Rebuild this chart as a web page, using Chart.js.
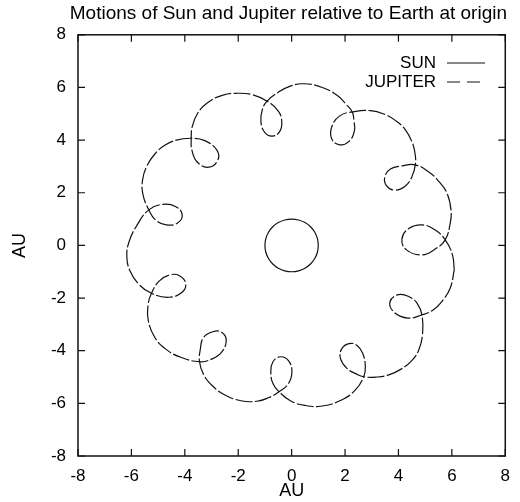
<!DOCTYPE html>
<html>
<head>
<meta charset="utf-8">
<script src="https://cdn.jsdelivr.net/npm/chart.js@4.4.1/dist/chart.umd.min.js"></script>
<style>
  html, body { margin: 0; padding: 0; background: #fff; }
  canvas { display: block; }
</style>
</head>
<body>
<canvas id="orbits" width="520" height="502"></canvas>
<script>
// Axis ticks (AU)
const tickValues = [-8, -6, -4, -2, 0, 2, 4, 6, 8];

// Sun seen from Earth: circle of 1 AU
const sunX = [1, 0.966, 0.866, 0.707, 0.5, 0.259, 0, -0.259, -0.5, -0.707, -0.866, -0.966,
              -1, -0.966, -0.866, -0.707, -0.5, -0.259, 0, 0.259, 0.5, 0.707, 0.866, 0.966, 1];
const sunY = [0, 0.259, 0.5, 0.707, 0.866, 0.966, 1, 0.966, 0.866, 0.707, 0.5, 0.259,
              0, -0.259, -0.5, -0.707, -0.866, -0.966, -1, -0.966, -0.866, -0.707, -0.5, -0.259, 0];

// Jupiter seen from Earth, loop by loop (counter-clockwise)
const jupiterX = [
  6.09, 6.02, 5.75, 5.35, 4.88, 4.4, 4.13, 4.3, 4.88, 5.4, 5.75, 5.93, 5.97, 5.82, 5.52, 5.15,
  4.63, 4.13, 3.7, 3.49, 3.55, 3.85, 4.25, 4.5, 4.63, 4.62, 4.5, 4.26, 3.92, 3.5, 2.95,
  2.27, 1.8, 1.5, 1.5, 1.8, 2.15, 2.35, 2.33, 2.27, 2.05, 1.7, 1.15, 0.45, -0.05, -0.5,
  -0.92, -1.1, -1.15, -1.0, -0.72, -0.45, -0.37, -0.5, -0.92, -1.45, -2.0, -2.6, -3.15, -3.52, -3.72,
  -3.76, -3.73, -3.52, -3.1, -2.76, -2.8, -3.25, -3.76, -4.32, -4.75, -5.1, -5.42, -5.58, -5.57,
  -5.35, -5.1, -4.69, -4.26, -4.1, -4.35, -4.82, -5.35, -5.8, -6.1, -6.17, -6.06, -5.72,
  -5.25, -4.6, -4.1, -3.97, -4.2, -4.55, -4.95, -5.25, -5.38, -5.37, -5.12, -4.7, -4.15,
  -3.45, -3.0, -2.62, -2.45, -2.62, -2.95, -3.3, -3.42, -3.45, -3.3, -2.95, -2.5, -1.9, -1.3, -0.85,
  -0.47, -0.12, 0.01, -0.12, -0.42, -0.7, -0.78, -0.7, -0.47, -0.05, 0.5, 1.15, 1.85, 2.38,
  2.7, 2.76, 2.66, 2.45, 2.15, 1.88, 1.83, 2.08, 2.4, 2.7, 3.2, 3.64, 4.1, 4.5, 4.76, 4.9,
  4.88, 4.7, 4.4, 4.0, 3.68, 3.85, 4.35, 4.88, 5.3, 5.65, 5.94, 6.09
];
const jupiterY = [
  -0.93, -0.35, 0.21, 0.6, 0.78, 0.65, 0.25, -0.17, -0.36, -0.12, 0.21, 0.8, 1.32, 1.98, 2.42, 2.78,
  3.06, 3.02, 2.9, 2.6, 2.27, 2.1, 2.25, 2.6, 3.06, 3.5, 3.95, 4.39, 4.72, 4.97, 5.12,
  5.07, 4.92, 4.5, 4.05, 3.82, 3.95, 4.35, 4.75, 5.07, 5.35, 5.7, 6.0, 6.14, 6.05, 5.82,
  5.48, 5.15, 4.7, 4.28, 4.15, 4.32, 4.7, 5.1, 5.48, 5.72, 5.78, 5.7, 5.42, 5.02, 4.52,
  4.07, 3.6, 3.15, 2.97, 3.25, 3.62, 3.98, 4.07, 4.0, 3.8, 3.5, 3.02, 2.5, 1.95,
  1.35, 0.97, 0.78, 0.86, 1.17, 1.48, 1.56, 1.35, 0.75, 0.1, -0.45, -0.95, -1.48,
  -1.82, -1.97, -1.78, -1.44, -1.15, -1.12, -1.35, -1.82, -2.3, -2.85, -3.5, -3.95, -4.25,
  -4.42, -4.32, -4.05, -3.6, -3.3, -3.28, -3.5, -3.95, -4.42, -4.9, -5.35, -5.68, -5.9, -5.92, -5.78,
  -5.56, -5.25, -4.8, -4.38, -4.23, -4.42, -4.82, -5.25, -5.56, -5.9, -6.08, -6.1, -5.88, -5.5,
  -4.99, -4.6, -4.1, -3.8, -3.73, -3.92, -4.3, -4.68, -4.87, -4.99, -5.0, -4.92, -4.7, -4.38, -3.97, -3.4,
  -2.64, -2.2, -1.95, -1.87, -2.15, -2.55, -2.76, -2.64, -2.45, -2.1, -1.62, -0.93
];

const FONT = "'Liberation Sans', Arial, Helvetica, sans-serif";
const INK = '#111';
const jupiterDash = [17, 2.5];
const legendDash = [13, 7];

const toPoints = (xs, ys) => xs.map((x, i) => ({ x: x, y: ys[i] }));

// Box frame, inward tick marks on all four sides and the legend in the top right
const framePlugin = {
    id: 'frame',
    afterDatasetsDraw(chart) {
        const { ctx, chartArea: a, scales } = chart;
        const tick = 7;
        ctx.save();
        ctx.strokeStyle = INK;
        ctx.lineWidth = 1.5;
        ctx.strokeRect(a.left, a.top, a.right - a.left, a.bottom - a.top);

        ctx.lineWidth = 1.2;
        ctx.beginPath();
        tickValues.forEach(v => {
            const px = scales.x.getPixelForValue(v);
            ctx.moveTo(px, a.bottom); ctx.lineTo(px, a.bottom - tick);
            ctx.moveTo(px, a.top); ctx.lineTo(px, a.top + tick);
            const py = scales.y.getPixelForValue(v);
            ctx.moveTo(a.left, py); ctx.lineTo(a.left + tick, py);
            ctx.moveTo(a.right, py); ctx.lineTo(a.right - tick, py);
        });
        ctx.stroke();

        // legend: label on the left, line sample on the right
        const items = chart.data.datasets;
        const textRight = 436;
        const lineStart = 447, lineEnd = 485;
        ctx.font = '17px ' + FONT;
        ctx.fillStyle = '#000';
        ctx.textAlign = 'right';
        ctx.textBaseline = 'middle';
        items.forEach((ds, i) => {
            const y = 63 + i * 19;
            ctx.fillText(ds.label, textRight, y);
            ctx.beginPath();
            ctx.setLineDash(ds.borderDash ? legendDash : []);
            ctx.lineWidth = 1;
            ctx.moveTo(lineStart, y);
            ctx.lineTo(lineEnd, y);
            ctx.stroke();
        });
        ctx.restore();
    }
};

const ctx = document.getElementById('orbits');

new Chart(ctx, {
    type: 'scatter',
    data: {
        datasets: [
            {
                label: 'SUN',
                data: toPoints(sunX, sunY),
                showLine: true,
                borderColor: INK,
                borderWidth: 1.2,
                pointRadius: 0,
                tension: 0.4
            },
            {
                label: 'JUPITER',
                data: toPoints(jupiterX, jupiterY),
                showLine: true,
                borderColor: INK,
                borderWidth: 1.2,
                borderDash: jupiterDash,
                pointRadius: 0,
                tension: 0.45
            }
        ]
    },
    options: {
        responsive: false,
        animation: false,
        events: [],
        layout: { padding: { left: 0, right: 13, top: 0, bottom: 0 } },
        plugins: {
            legend: { display: false },
            tooltip: { enabled: false },
            title: {
                display: true,
                text: 'Motions of Sun and Jupiter relative to Earth at origin',
                align: 'end',
                color: '#000',
                font: { family: FONT, size: 19, weight: 'normal' },
                padding: { top: 2, bottom: 10 }
            }
        },
        scales: {
            x: {
                type: 'linear',
                min: -8,
                max: 8,
                afterBuildTicks: scale => { scale.ticks = tickValues.map(v => ({ value: v })); },
                ticks: { color: '#000', font: { family: FONT, size: 17 }, padding: 10 },
                grid: { display: false, drawTicks: false },
                border: { display: false },
                title: {
                    display: true,
                    text: 'AU',
                    color: '#000',
                    font: { family: FONT, size: 18 },
                    padding: { top: 0, bottom: 0 }
                },
                afterFit: scale => { scale.height = 46; }
            },
            y: {
                type: 'linear',
                min: -8,
                max: 8,
                afterBuildTicks: scale => { scale.ticks = tickValues.map(v => ({ value: v })); },
                ticks: { color: '#000', font: { family: FONT, size: 17 }, padding: 12 },
                grid: { display: false, drawTicks: false },
                border: { display: false },
                title: {
                    display: true,
                    text: 'AU',
                    color: '#000',
                    font: { family: FONT, size: 18 },
                    padding: { top: 9, bottom: 0 }
                },
                afterFit: scale => { scale.width = 78; }
            }
        }
    },
    plugins: [framePlugin]
});
</script>
</body>
</html>
